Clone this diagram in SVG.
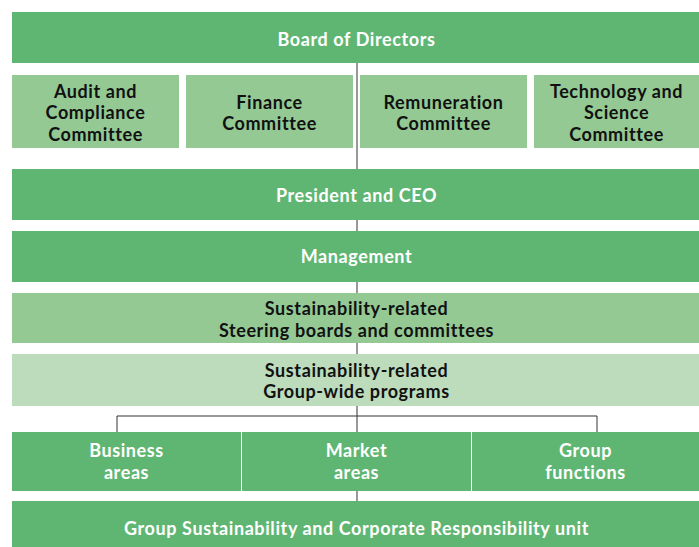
<svg xmlns="http://www.w3.org/2000/svg" width="699" height="547" viewBox="0 0 699 547">
<style>
.d{fill:#5fb672}
.m{fill:#94c994}
.l{fill:#bcdcbc}
text{font-family:Lato,"Noto Sans",sans-serif;font-size:18px;font-weight:700;letter-spacing:0.6px;text-anchor:middle}
.w{fill:#ffffff}
.k{fill:#111111}
.c line,.c path{stroke:#333333;stroke-width:1;fill:none}
</style>
<rect width="699" height="547" fill="#ffffff"/>
<g class="c" id="connectors">
<line x1="357" y1="63" x2="357" y2="169"/>
<line x1="357" y1="220" x2="357" y2="231"/>
<line x1="357" y1="282" x2="357" y2="293"/>
<line x1="357" y1="343" x2="357" y2="354"/>
<line x1="357" y1="406" x2="357" y2="432"/>
<path d="M117,432 V416 H597 V432"/>
<line x1="357" y1="491" x2="357" y2="501"/>
</g>
<g id="board"><rect class="d" x="12" y="12" width="687" height="51"/><text class="w" x="356.5" y="46">Board of Directors</text></g>
<g id="audit"><rect class="m" x="12" y="75" width="167" height="73"/><text class="k" x="95.5" y="97.5">Audit and</text><text class="k" x="95.5" y="119.2">Compliance</text><text class="k" x="95.5" y="140.9">Committee</text></g>
<g id="finance"><rect class="m" x="186" y="75" width="167" height="73"/><text class="k" x="269.5" y="108.5">Finance</text><text class="k" x="269.5" y="130.2">Committee</text></g>
<g id="remuneration"><rect class="m" x="360" y="75" width="167" height="73"/><text class="k" x="443.5" y="108.5">Remuneration</text><text class="k" x="443.5" y="130.2">Committee</text></g>
<g id="technology"><rect class="m" x="534" y="75" width="165" height="73"/><text class="k" x="616.5" y="97.5">Technology and</text><text class="k" x="616.5" y="119.2">Science</text><text class="k" x="616.5" y="140.9">Committee</text></g>
<g id="president"><rect class="d" x="12" y="169" width="687" height="51"/><text class="w" x="356.5" y="202">President and CEO</text></g>
<g id="management"><rect class="d" x="12" y="231" width="687" height="51"/><text class="w" x="356.5" y="263">Management</text></g>
<g id="steering"><rect class="m" x="12" y="293" width="687" height="50"/><text class="k" x="356.5" y="315">Sustainability-related</text><text class="k" x="356.5" y="337">Steering boards and committees</text></g>
<g id="programs"><rect class="l" x="12" y="354" width="687" height="52"/><text class="k" x="356.5" y="376.5">Sustainability-related</text><text class="k" x="356.5" y="398.2">Group-wide programs</text></g>
<g id="business"><rect class="d" x="12" y="432" width="229" height="59"/><text class="w" x="126.5" y="457">Business</text><text class="w" x="126.5" y="479">areas</text></g>
<g id="market"><rect class="d" x="242" y="432" width="229" height="59"/><text class="w" x="356.5" y="457">Market</text><text class="w" x="356.5" y="479">areas</text></g>
<g id="groupfunctions"><rect class="d" x="472" y="432" width="227" height="59"/><text class="w" x="585.5" y="457">Group</text><text class="w" x="585.5" y="479">functions</text></g>
<g id="gscr"><rect class="d" x="12" y="501" width="687" height="46"/><text class="w" x="356.5" y="535">Group Sustainability and Corporate Responsibility unit</text></g>
</svg>
